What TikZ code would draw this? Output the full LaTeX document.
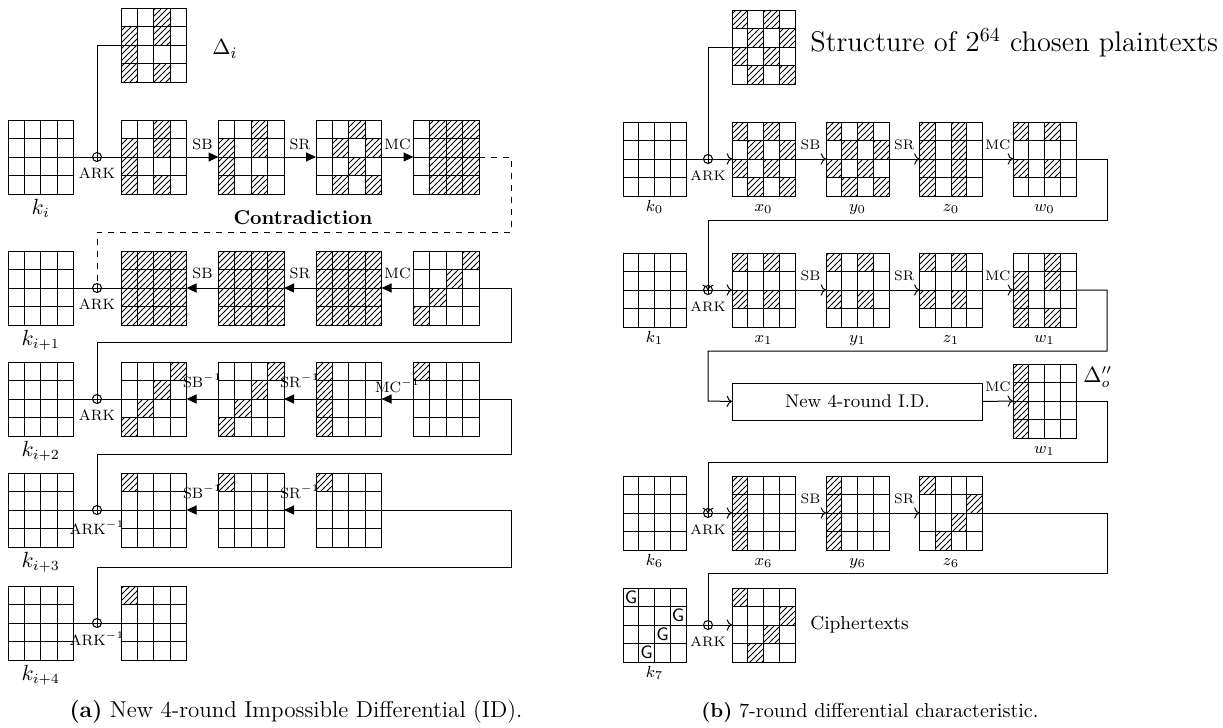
\documentclass[tikz,border=0pt]{standalone}
\usetikzlibrary{patterns,arrows.meta}

% 4x4 AES state: name, left, top, width, hatched cells (row/col)
\newcommand\stategrid[5]{%
  \if\relax\detokenize{#5}\relax\else
    \foreach \r/\c in {#5}{\fill[cellfill] ({#2+\c*#4/4},{#3+\r*18.5}) rectangle ++({#4/4},18.5);}%
  \fi
  \node[gridbox, minimum width={#4*0.5pt}] (#1) at (#2,#3) {};
  \foreach \i in {1,2,3}{%
    \draw[gridline] ({#2+\i*#4/4},#3) -- ++(0,74);
    \draw[gridline] (#2,{#3+\i*18.5}) -- ++(#4,0);}%
}

\tikzset{
  cellfill/.style={pattern=north east lines},
  gridbox/.style={draw, line width=0.5pt, inner sep=0pt, outer sep=0pt,
    anchor=north west, minimum height=37pt},
  gridline/.style={line width=0.5pt},
  wire/.style={line width=0.5pt},
  tri/.style={wire, -{Triangle[length=5pt,width=4.5pt]}},
  fwd/.style={wire, ->},
  xorgate/.style={circle, draw, line width=0.5pt, minimum size=4.5pt,
    inner sep=0pt, outer sep=0pt,
    path picture={\draw[line width=0.5pt]
      (path picture bounding box.north) -- (path picture bounding box.south)
      (path picture bounding box.west) -- (path picture bounding box.east);}},
  opl/.style={font=\fontsize{7.5}{9}\selectfont, inner sep=0pt, anchor=base},
  opr/.style={font=\fontsize{6.9}{8}\selectfont, inner sep=0pt, anchor=base},
  keyl/.style={font=\fontsize{10.5}{12}\selectfont, inner sep=1.5pt, anchor=north,
    text height=8.5pt},
  varl/.style={font=\fontsize{8.3}{10}\selectfont, inner sep=1pt, anchor=north,
    text height=6.5pt},
  txt/.style={inner sep=1pt},
  gk/.style={font=\sffamily\fontsize{9}{10}\selectfont, inner sep=0pt},
}

\begin{document}
\begin{tikzpicture}[x=0.5pt,y=-0.5pt]
\useasboundingbox (0,0) rectangle (1223,728);

% ---------------- (a) four-round impossible differential ----------------
\stategrid{Di}{121}{8}{65.5}{0/2,1/0,1/2,2/0,3/0,3/2}
\node[txt, font=\fontsize{11}{13}\selectfont, anchor=west] (lDi) at (210,49) {$\Delta_i$};

% round i (forward)
\stategrid{ki}{8}{120}{65.5}{}
\stategrid{a1}{121}{120}{65.5}{0/2,1/0,1/2,2/0,3/0,3/2}
\stategrid{b1}{218.5}{120}{65.5}{0/2,1/0,1/2,2/0,3/0,3/2}
\stategrid{c1}{316}{120}{65.5}{0/2,1/1,1/3,2/2,3/1,3/3}
\stategrid{d1}{413.5}{120}{65.5}{0/1,0/2,0/3,1/1,1/2,1/3,2/1,2/2,2/3,3/1,3/2,3/3}
\node[xorgate] (ark1) at (97,157) {};
\node[opl] (lark1) at ([yshift=-10.5pt]ark1.center) {ARK};
\node[keyl] (lki) at (ki.south) {$k_i$};
\draw[wire] (Di.west) -| (ark1.north);
\draw[wire] (ki.east) -- (a1.west);
\draw[tri] (a1.east) -- node[opl, midway, yshift=4pt] (lsb1) {SB} (b1.west);
\draw[tri] (b1.east) -- node[opl, midway, yshift=4pt] (lsr1) {SR} (c1.west);
\draw[tri] (c1.east) -- node[opl, midway, yshift=4pt] (lmc1) {MC} (d1.west);

% contradiction link
\coordinate (cr) at (511,232);
\node[txt, font=\fontsize{10}{12}\selectfont\bfseries] (contra) at (303,218) {Contradiction};

% round i+1 (backward)
\stategrid{ki1}{8}{251}{65.5}{}
\stategrid{a2}{121}{251}{65.5}{0/0,0/1,0/2,0/3,1/0,1/1,1/2,1/3,2/0,2/1,2/2,2/3,3/0,3/1,3/2,3/3}
\stategrid{b2}{218.5}{251}{65.5}{0/0,0/1,0/2,0/3,1/0,1/1,1/2,1/3,2/0,2/1,2/2,2/3,3/0,3/1,3/2,3/3}
\stategrid{c2}{316}{251}{65.5}{0/0,0/1,0/2,0/3,1/0,1/1,1/2,1/3,2/0,2/1,2/2,2/3,3/0,3/1,3/2,3/3}
\stategrid{d2}{413.5}{251}{65.5}{0/3,1/2,2/1,3/0}
\node[xorgate] (ark2) at (97,288) {};
\node[opl] (lark2) at ([yshift=-10.5pt]ark2.center) {ARK};
\node[keyl] (lki1) at (ki1.south) {$k_{i+1}$};
\draw[wire, dashed] (d1.east) -| (cr) -| (ark2.north);
\draw[wire] (ki1.east) -- (a2.west);
\draw[tri] (b2.west) -- node[opl, midway, yshift=5pt] (lsb2) {SB} (a2.east);
\draw[tri] (c2.west) -- node[opl, midway, yshift=5pt] (lsr2) {SR} (b2.east);
\draw[tri] (d2.west) -- node[opl, midway, yshift=5pt] (lmc2) {MC} (c2.east);

% round i+2
\coordinate (r2) at (511,342);
\stategrid{ki2}{8}{362}{65.5}{}
\stategrid{a3}{121}{362}{65.5}{0/3,1/2,2/1,3/0}
\stategrid{b3}{218.5}{362}{65.5}{0/3,1/2,2/1,3/0}
\stategrid{c3}{316}{362}{65.5}{0/0,1/0,2/0,3/0}
\stategrid{d3}{413.5}{362}{65.5}{0/0}
\node[xorgate] (ark3) at (97,399) {};
\node[opl] (lark3) at ([yshift=-10.5pt]ark3.center) {ARK};
\node[keyl] (lki2) at (ki2.south) {$k_{i+2}$};
\draw[wire] (d2.east) -| (r2) -| (ark3.north);
\draw[wire] (ki2.east) -- (a3.west);
\draw[tri] (b3.west) -- node[opl, midway, yshift=6pt] (lsb3) {SB$^{-1}$} (a3.east);
\draw[tri] (c3.west) -- node[opl, midway, yshift=6pt] (lsr3) {SR$^{-1}$} (b3.east);
\draw[tri] (d3.west) -- node[opl, midway, yshift=3.5pt] (lmc3) {MC$^{-1}$} (c3.east);

% round i+3
\coordinate (r3) at (511,454);
\stategrid{ki3}{8}{473}{65.5}{}
\stategrid{a4}{121}{473}{65.5}{0/0}
\stategrid{b4}{218.5}{473}{65.5}{0/0}
\stategrid{c4}{316}{473}{65.5}{0/0}
\node[xorgate] (ark4) at (97,510) {};
\node[opl] (lark4) at ([yshift=-12pt]ark4.center) {ARK$^{-1}$};
\node[keyl] (lki3) at (ki3.south) {$k_{i+3}$};
\draw[wire] (d3.east) -| (r3) -| (ark4.north);
\draw[wire] (ki3.east) -- (a4.west);
\draw[tri] (b4.west) -- node[opl, midway, yshift=6pt] (lsb4) {SB$^{-1}$} (a4.east);
\draw[tri] (c4.west) -- node[opl, midway, yshift=6pt] (lsr4) {SR$^{-1}$} (b4.east);

% round i+4
\coordinate (r4) at (511,567);
\stategrid{ki4}{8}{586}{65.5}{}
\stategrid{a5}{121}{586}{65.5}{0/0}
\node[xorgate] (ark5) at (97,623) {};
\node[opl] (lark5) at ([yshift=-11pt]ark5.center) {ARK$^{-1}$};
\node[keyl] (lki4) at (ki4.south) {$k_{i+4}$};
\draw[wire] (c4.east) -| (r4) -| (ark5.north);
\draw[wire] (ki4.east) -- (a5.west);

\node[txt, font=\fontsize{11.5}{13}\selectfont] (capa) at (296,712) {\textbf{(a)} New 4-round Impossible Differential (ID).};

% ---------------- (b) seven-round differential characteristic ----------------
\stategrid{st}{732}{10}{63}{0/0,0/2,1/1,1/3,2/0,2/2,3/1,3/3}
\node[txt, font=\fontsize{14.2}{16}\selectfont, anchor=west] (lst) at (808,43) {Structure of $2^{64}$ chosen plaintexts};

% round 0
\stategrid{k0}{623}{122}{63}{}
\stategrid{x0}{732}{122}{63}{0/0,0/2,1/1,1/3,2/0,2/2,3/1,3/3}
\stategrid{y0}{826}{122}{63}{0/0,0/2,1/1,1/3,2/0,2/2,3/1,3/3}
\stategrid{z0}{919.5}{122}{63}{0/0,1/0,2/0,3/0,0/2,1/2,2/2,3/2}
\stategrid{w0}{1013}{122}{63}{0/0,0/2,2/0,2/2}
\node[xorgate] (rx0) at (708,159) {};
\node[opr] (lrx0) at ([yshift=-10.5pt]rx0.center) {ARK};
\node[varl] (lk0) at (k0.south) {$k_0$};
\node[varl] (lx0) at (x0.south) {$x_0$};
\node[varl] (ly0) at (y0.south) {$y_0$};
\node[varl] (lz0) at (z0.south) {$z_0$};
\node[varl] (lw0) at (w0.south) {$w_0$};
\draw[wire] (st.west) -| (rx0.north);
\draw[fwd] (k0.east) -- (x0.west);
\draw[fwd] (x0.east) -- node[opr, midway, yshift=5pt] (sb0) {SB} (y0.west);
\draw[fwd] (y0.east) -- node[opr, midway, yshift=5pt] (sr0) {SR} (z0.west);
\draw[fwd] (z0.east) -- node[opr, midway, yshift=5pt] (mc0) {MC} (w0.west);

% round 1
\coordinate (q0) at (1107,220);
\stategrid{k1}{623}{253}{63}{}
\stategrid{x1}{732}{253}{63}{0/0,0/2,2/0,2/2}
\stategrid{y1}{826}{253}{63}{0/0,0/2,2/0,2/2}
\stategrid{z1}{919.5}{253}{63}{0/0,0/2,2/0,2/2}
\stategrid{w1}{1013}{253}{63}{0/2,1/0,1/2,2/0,3/0,3/2}
\node[xorgate] (rx1) at (708,290) {};
\node[opr] (lrx1) at ([yshift=-10.5pt]rx1.center) {ARK};
\node[varl] (lk1) at (k1.south) {$k_1$};
\node[varl] (lx1) at (x1.south) {$x_1$};
\node[varl] (ly1) at (y1.south) {$y_1$};
\node[varl] (lz1) at (z1.south) {$z_1$};
\node[varl] (lw1) at (w1.south) {$w_1$};
\draw[fwd] (w0.east) -| (q0) -| (rx1.center);
\draw[fwd] (k1.east) -- (x1.west);
\draw[fwd] (x1.east) -- node[opr, midway, yshift=5pt] (sb1) {SB} (y1.west);
\draw[fwd] (y1.east) -- node[opr, midway, yshift=5pt] (sr1) {SR} (z1.west);
\draw[fwd] (z1.east) -- node[opr, midway, yshift=5pt] (mc1) {MC} (w1.west);

% four-round impossible differential block
\coordinate (q1) at (1107,351);
\coordinate (q1b) at (708,401);
\node[draw, line width=0.5pt, anchor=north west, minimum width=125pt, minimum height=18.5pt,
  inner sep=0pt, font=\fontsize{9.2}{11}\selectfont] (box) at (732,382.5) {New 4-round I.D.};
\stategrid{w1p}{1013}{364}{63}{0/0,1/0,2/0,3/0}
\node[varl] (lw1p) at (w1p.south) {$w_1$};
\node[txt, font=\fontsize{10.5}{12}\selectfont, anchor=west] (ldo) at (1081,377) {$\Delta''_o$};
\draw[fwd] (w1.east) -| (q1) -| (q1b) -- (box.west);
\draw[fwd] (box.east) -- node[opr, midway, yshift=5pt] (mcb) {MC} (w1p.west);

% round 6
\coordinate (q2) at (1107,462);
\stategrid{k6}{623}{476}{63}{}
\stategrid{x6}{732}{476}{63}{0/0,1/0,2/0,3/0}
\stategrid{y6}{826}{476}{63}{0/0,1/0,2/0,3/0}
\stategrid{z6}{919.5}{476}{63}{0/0,1/3,2/2,3/1}
\node[xorgate] (rx6) at (708,513) {};
\node[opr] (lrx6) at ([yshift=-10.5pt]rx6.center) {ARK};
\node[varl] (lk6) at (k6.south) {$k_6$};
\node[varl] (lx6) at (x6.south) {$x_6$};
\node[varl] (ly6) at (y6.south) {$y_6$};
\node[varl] (lz6) at (z6.south) {$z_6$};
\draw[fwd] (w1p.east) -| (q2) -| (rx6.center);
\draw[fwd] (k6.east) -- (x6.west);
\draw[fwd] (x6.east) -- node[opr, midway, yshift=5pt] (sb6) {SB} (y6.west);
\draw[fwd] (y6.east) -- node[opr, midway, yshift=5pt] (sr6) {SR} (z6.west);

% final key addition
\coordinate (q3) at (1107,573);
\stategrid{k7}{623}{588}{63}{}
\stategrid{ct}{732}{588}{63}{0/0,1/3,2/2,3/1}
\node[gk] (g0) at (631,597) {G};
\node[gk] (g1) at (678,615.5) {G};
\node[gk] (g2) at (662.5,634) {G};
\node[gk] (g3) at (646.5,652.5) {G};
\node[xorgate] (rx7) at (708,625) {};
\node[opr] (lrx7) at ([yshift=-10.5pt]rx7.center) {ARK};
\node[varl] (lk7) at (k7.south) {$k_7$};
\node[txt, font=\fontsize{9.4}{11}\selectfont, anchor=west] (lct) at (808,625) {Ciphertexts};
\draw[wire] (z6.east) -| (q3) -| (rx7.north);
\draw[fwd] (k7.east) -- (ct.west);

\node[txt, font=\fontsize{10.1}{12}\selectfont] (capb) at (870,712) {\textbf{(b)} 7-round differential characteristic.};
\end{tikzpicture}
\end{document}
